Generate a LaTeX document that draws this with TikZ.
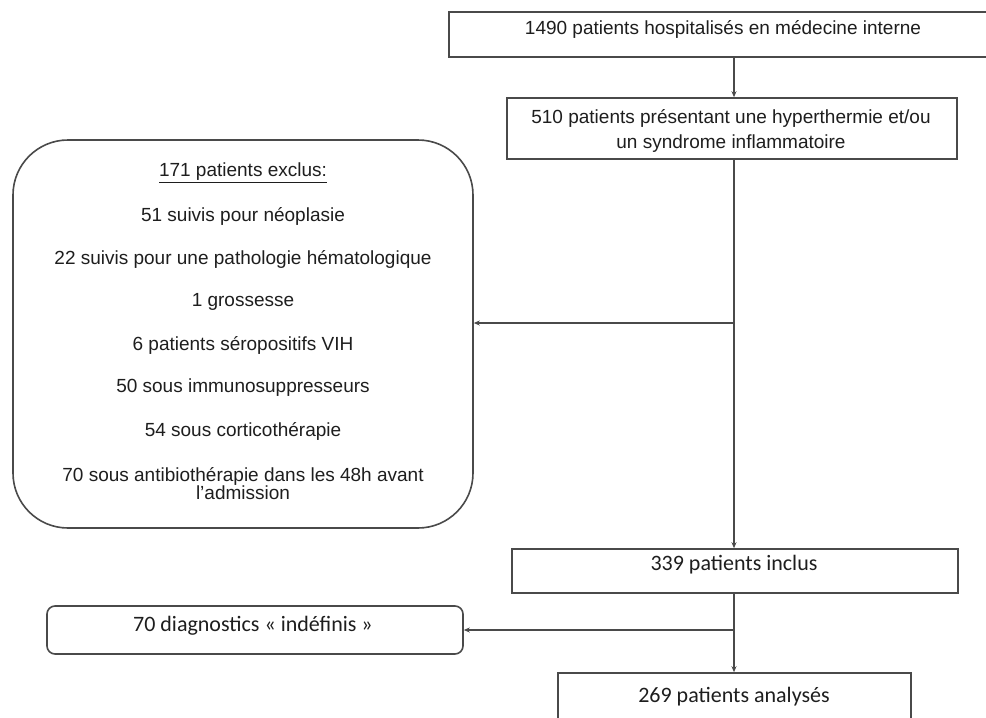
\documentclass[tikz,border=0pt]{standalone}
\usepackage{fontspec}
\setmainfont{Liberation Sans}
\newfontfamily\calib{Carlito}
\usetikzlibrary{arrows.meta}
\definecolor{linegray}{HTML}{4A4A4A}
\definecolor{txt}{HTML}{1E1E1E}
\begin{document}
\begin{tikzpicture}[x=1pt,y=-1pt,
  box/.style={draw=linegray,line width=1.6pt,rectangle,inner sep=0pt},
  lbl/.style={inner sep=0pt,text=txt,font=\fontsize{19}{25}\selectfont,align=center},
  clbl/.style={inner sep=0pt,text=txt,font=\calib\fontsize{22}{26}\selectfont,align=center},
  conn/.style={draw=linegray,line width=1.4pt,-{Stealth[length=6pt,width=5pt]}}]
\useasboundingbox (0,0) rectangle (986,718);
\clip (0,0) rectangle (986,718);
\fill[white] (0,0) rectangle (986,718);
\coordinate (spine) at (734,0);
% boxes
\node[box,minimum width=541pt,minimum height=45pt] (b1) at (719.5,34.5) {};
\node[box,minimum width=450pt,minimum height=61pt] (b2) at (732,128.5) {};
\node[box,rounded corners=55pt,minimum width=460pt,minimum height=388pt] (excl) at (243,334) {};
\node[box,minimum width=446pt,minimum height=44pt] (b3) at (735,571) {};
\node[box,rounded corners=8pt,minimum width=416pt,minimum height=48pt] (b4) at (255,630) {};
\node[box,minimum width=353pt,minimum height=60pt] (b5) at (734.5,703) {};
% texts
\node[lbl] (t1) at (723,29) {1490 patients hospitalisés en médecine interne};
\node[lbl] (t2) at (731,131) {510 patients présentant une hyperthermie et/ou\\un syndrome inflammatoire};
\node[lbl] (e0) at (243,173) {\underline{171 patients exclus:}};
\node[lbl] (e1) at (243,216) {51 suivis pour néoplasie};
\node[lbl] (e2) at (243,259) {22 suivis pour une pathologie hématologique};
\node[lbl] (e3) at (243,302) {1 grossesse};
\node[lbl] (e4) at (243,345) {6 patients séropositifs VIH};
\node[lbl] (e5) at (243,388) {50 sous immunosuppresseurs};
\node[lbl] (e6) at (243,431) {54 sous corticothérapie};
\node[lbl,font=\fontsize{19}{18}\selectfont] (e7) at (243,484) {70 sous antibiothérapie dans les 48h avant\\l'admission};
\node[clbl] (t3) at (734,565) {339 patients inclus};
\node[clbl] (t4) at (253,626) {70 diagnostics «~indéfinis~»};
\node[clbl] (t5) at (734,697) {269 patients analysés};
% connectors
\coordinate (j1) at (734,323);
\coordinate (j2) at (734,630);
\draw[conn] (b1.south -| spine) -- (b2.north -| spine);
\draw[conn] (b2.south -| spine) -- (b3.north -| spine);
\draw[conn] (j1) -- (excl.east |- j1);
\draw[conn] (b3.south -| spine) -- (b5.north -| spine);
\draw[conn] (j2) -- (b4.east |- j2);
\end{tikzpicture}
\end{document}
